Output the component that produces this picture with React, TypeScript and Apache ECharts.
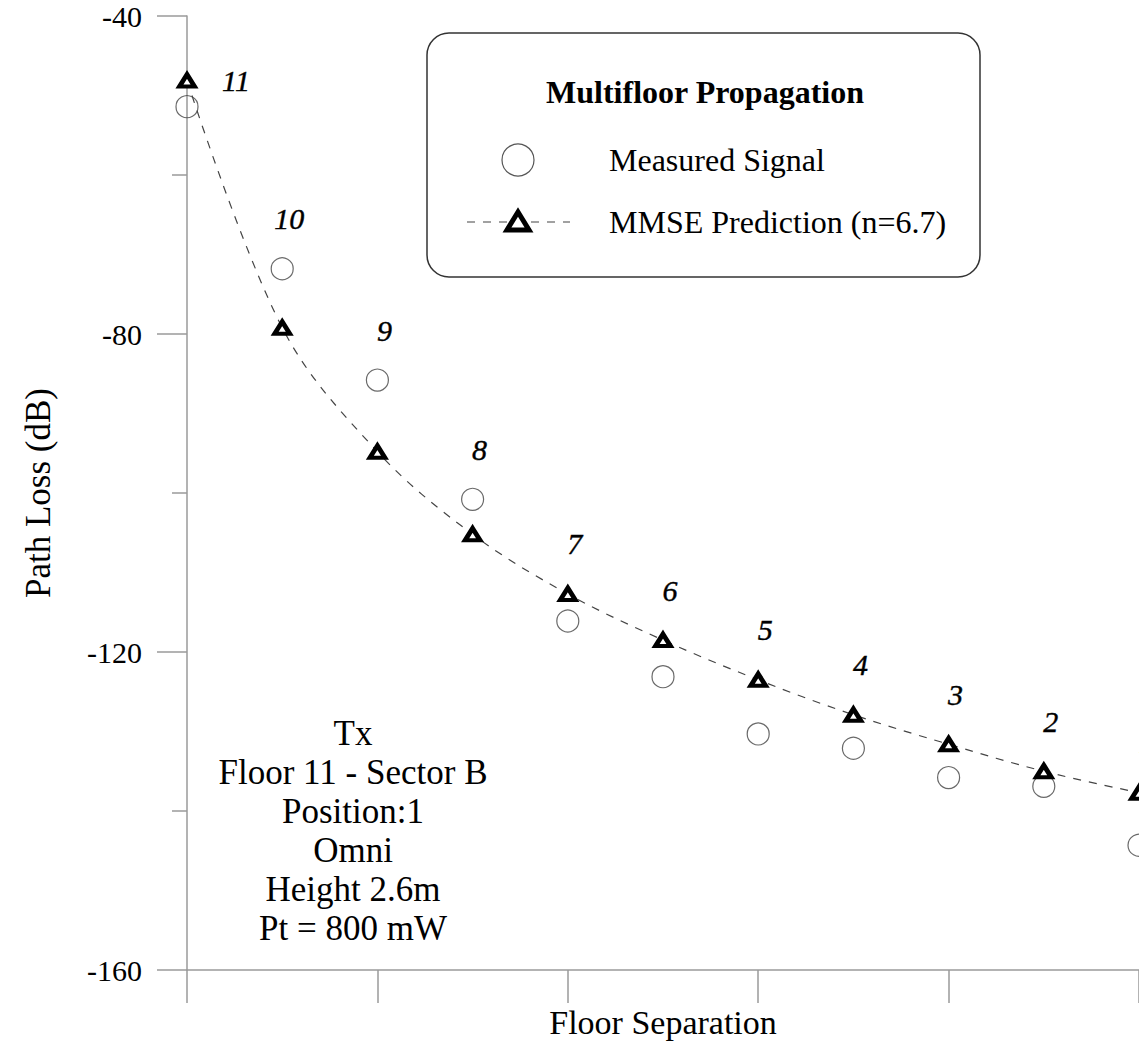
import React, { useEffect, useRef } from "react";
import * as echarts from "echarts";

const floorSep = [0, 1, 2, 3, 4, 5, 6, 7, 8, 9, 10];
const floorLabels = ["11", "10", "9", "8", "7", "6", "5", "4", "3", "2", "1"];
const measured = [-51.4, -71.8, -85.8, -100.8, -116.1, -123.1, -130.3, -132.1, -135.8, -136.9, -144.3];
const predicted = [-48.1, -79.2, -94.8, -105.2, -112.7, -118.5, -123.5, -127.9, -131.6, -135.0, -137.7];
const yTicks = { min: -160, max: -40, interval: 40 };
const xTicks = { min: 0, max: 10, interval: 2 };
const legendTitle = "Multifloor Propagation";
const seriesNames = ["Measured Signal", "MMSE Prediction (n=6.7)"];
const noteLines = ["Tx", "Floor 11 - Sector B", "Position:1", "Omni", "Height 2.6m", "Pt = 800 mW"];

const FONT = "'Liberation Serif', 'Times New Roman', serif";
const AXIS = "#9a9a9a";

export default function App() {
  const ref = useRef<HTMLDivElement>(null);
  useEffect(() => {
    if (!ref.current) return;
    const chart = echarts.init(ref.current, null, { renderer: "svg" });
    const labelData = floorSep.map((x, i) => ({
      value: [x, Math.max(measured[i], predicted[i])],
      label: {
        formatter: floorLabels[i],
        offset: i === 0 ? [49, 0] : [7, -50],
      },
    }));
    chart.setOption({
      animation: false,
      backgroundColor: "#fff",
      grid: {
        left: 187,
        right: 0,
        top: 16,
        bottom: 71,
        containLabel: false,
        outerBoundsMode: "none",
      },
      xAxis: {
        type: "value",
        min: xTicks.min,
        max: xTicks.max,
        interval: xTicks.interval,
        name: "Floor Separation",
        nameLocation: "middle",
        nameGap: 35,
        nameTextStyle: { fontFamily: FONT, fontSize: 34, color: "#000", lineHeight: 34 },
        axisLine: { show: true, lineStyle: { color: AXIS, width: 1.5 } },
        axisTick: { show: true, length: 33, lineStyle: { color: AXIS, width: 1.5 } },
        axisLabel: { show: false },
        splitLine: { show: false },
      },
      yAxis: {
        type: "value",
        min: yTicks.min,
        max: yTicks.max,
        interval: yTicks.interval,
        name: "Path Loss (dB)",
        nameLocation: "middle",
        nameGap: 131,
        nameTextStyle: { fontFamily: FONT, fontSize: 35, color: "#000" },
        axisLine: { show: true, lineStyle: { color: AXIS, width: 1.5 } },
        axisTick: { show: true, length: 30, lineStyle: { color: AXIS, width: 1.5 } },
        minorTick: { show: true, splitNumber: 2, length: 15, lineStyle: { color: AXIS, width: 1.5 } },
        axisLabel: { fontFamily: FONT, fontSize: 30, color: "#000", margin: 45 },
        splitLine: { show: false },
        minorSplitLine: { show: false },
      },
      series: [
        {
          name: seriesNames[1],
          type: "line",
          data: floorSep.map((x, i) => [x, predicted[i]]),
          smooth: 0.35,
          lineStyle: { color: "#444", width: 1.2, type: [8, 8] },
          symbol: "triangle",
          symbolSize: [15, 12],
          itemStyle: { color: "#fff", borderColor: "#000", borderWidth: 4.5 },
          z: 3,
        },
        {
          name: seriesNames[0],
          type: "scatter",
          data: floorSep.map((x, i) => [x, measured[i]]),
          symbol: "circle",
          symbolSize: 22,
          itemStyle: { color: "rgba(255,255,255,0)", borderColor: "#444", borderWidth: 1.2 },
          z: 2,
        },
        {
          name: "floors",
          type: "scatter",
          data: labelData,
          symbolSize: 1,
          itemStyle: { color: "transparent" },
          label: {
            show: true,
            position: "inside",
            fontFamily: FONT,
            fontStyle: "italic",
            fontSize: 30,
            color: "#000",
            opacity: 1,
            textBorderColor: "#000",
            textBorderWidth: 0.4,
          },
          z: 4,
        },
      ],
      graphic: [
        {
          type: "group",
          children: [
            {
              type: "rect",
              shape: { x: 427, y: 33, width: 553, height: 244, r: 22 },
              style: { fill: "#fff", stroke: "#333", lineWidth: 1.5 },
            },
            {
              type: "text",
              x: 705,
              y: 92,
              style: {
                text: legendTitle,
                fontFamily: FONT,
                fontSize: 32,
                fontWeight: "bold",
                fill: "#000",
                align: "center",
                verticalAlign: "middle",
              },
            },
            {
              type: "circle",
              shape: { cx: 518, cy: 160, r: 16 },
              style: { fill: "#fff", stroke: "#555", lineWidth: 1.2 },
            },
            {
              type: "text",
              x: 609,
              y: 160,
              style: {
                text: seriesNames[0],
                fontFamily: FONT,
                fontSize: 32,
                fill: "#000",
                align: "left",
                verticalAlign: "middle",
              },
            },
            {
              type: "line",
              shape: { x1: 467, y1: 222, x2: 570, y2: 222 },
              style: { stroke: "#444", lineWidth: 1.2, lineDash: [8, 8] },
            },
            {
              type: "polygon",
              shape: { points: [[507, 230], [529, 230], [518, 212]] },
              style: { fill: "#fff", stroke: "#000", lineWidth: 5 },
            },
            {
              type: "text",
              x: 609,
              y: 222,
              style: {
                text: seriesNames[1],
                fontFamily: FONT,
                fontSize: 32,
                fill: "#000",
                align: "left",
                verticalAlign: "middle",
              },
            },
          ],
        },
        {
          type: "text",
          x: 353,
          y: 714,
          style: {
            text: noteLines.join("\n"),
            fontFamily: FONT,
            fontSize: 35,
            lineHeight: 39,
            fill: "#000",
            align: "center",
            verticalAlign: "top",
          },
        },
      ],
    });
    return () => chart.dispose();
  }, []);
  return (
    <div
      ref={ref}
      style={{ position: "absolute", left: 0, top: 0, width: 1139, height: 1041 }}
    />
  );
}
